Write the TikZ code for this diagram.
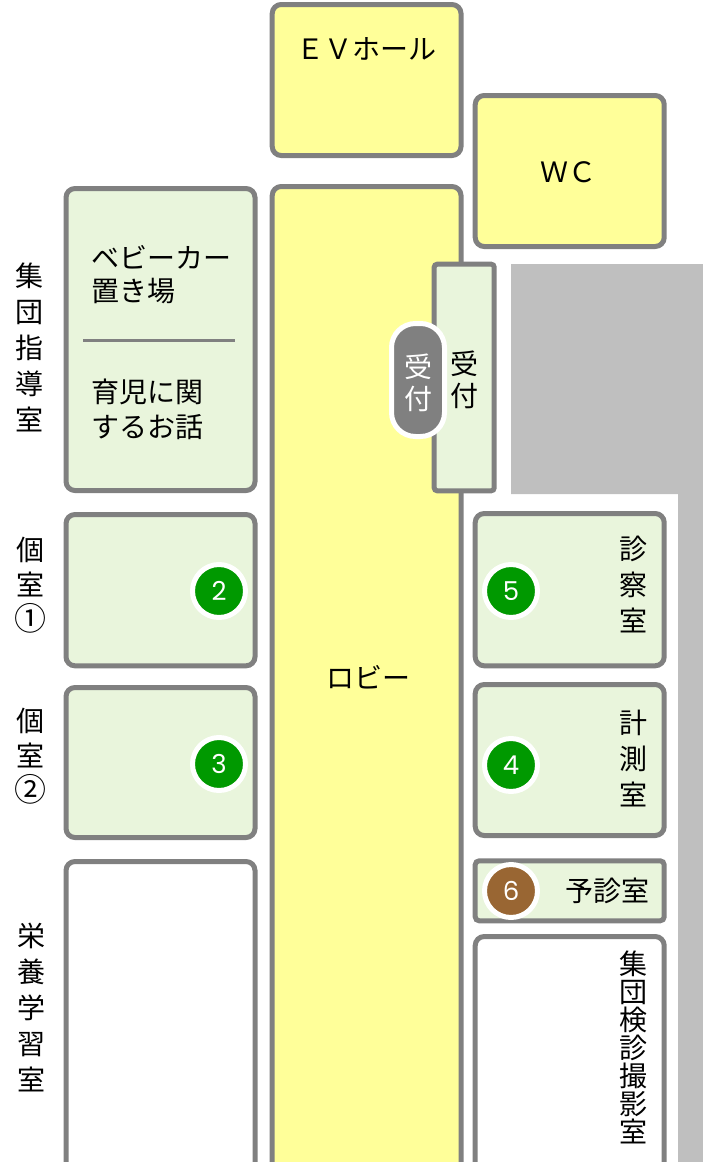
\documentclass[tikz,border=0pt]{standalone}
\usepackage{fontspec}
\setmainfont{Noto Sans CJK JP}
\newfontfamily\digitfont{Poppins}
\definecolor{roomline}{HTML}{808080}
\definecolor{hall}{HTML}{FFFF99}
\definecolor{roomgreen}{HTML}{E9F5DC}
\definecolor{wall}{HTML}{BFBFBF}
\definecolor{markgreen}{HTML}{009900}
\definecolor{markbrown}{HTML}{996633}
\tikzset{
  room/.style={draw=roomline,line width=5pt,rounded corners=9pt},
  roomlabel/.style={inner sep=0pt,align=center,text=black,font=\fontsize{28}{36}\selectfont},
  stepmark/.style={circle,draw=white,line width=5pt,minimum size=53pt,inner sep=0pt,text=white,font=\digitfont\fontsize{26}{26}\selectfont},
}
\newcommand{\circnum}[1]{{\fontsize{32}{32}\selectfont #1}}
\begin{document}
\begin{tikzpicture}[x=1pt,y=-1pt]
\useasboundingbox (0,0) rectangle (703,1162);
\clip (0,0) rectangle (703,1162);
\fill[wall] (511,264) -- (703,264) -- (703,1162) -- (678,1162) -- (678,494) -- (511,494) -- cycle;
\draw[room,fill=hall] (272.2,4.5) rectangle (461,155.5);
\draw[room,fill=hall] (475.2,95.5) rectangle (664.2,246.5);
\draw[room,fill=hall] (272.2,186.5) rectangle (461,1172);
\draw[room,fill=roomgreen] (66,188.5) rectangle (255,490.5);
\draw[room,fill=roomgreen] (66,514.5) rectangle (255,665.8);
\draw[room,fill=roomgreen] (66,687.5) rectangle (255,837.5);
\draw[room,fill=white] (66,861.5) rectangle (255,1172);
\draw[room,fill=roomgreen] (475.2,513.5) rectangle (664.2,665.8);
\draw[room,fill=roomgreen] (475.2,684.5) rectangle (664.2,835.5);
\draw[room,fill=roomgreen,rounded corners=4pt] (475.2,860.8) rectangle (664.2,920.8);
\draw[room,fill=white] (475.2,936.5) rectangle (664.2,1172);
\draw[room,fill=roomgreen,rounded corners=3pt] (434.2,264.2) rectangle (494.2,490.8);
\coordinate (divA) at (83,340);
\coordinate (divB) at (235,340);
\draw[roomline,line width=3pt] (divA) -- (divB);
\draw[white,line width=5pt,fill=roomline,rounded corners=24pt] (391.5,323.5) rectangle (444.5,436.5);
\node[roomlabel] (ev) at (366,49) {ＥＶホール};
\node[roomlabel] (wc) at (568,172) {ＷＣ};
\node[roomlabel] (lobby) at (368,677) {ロビー};
\node[roomlabel,anchor=west,font=\fontsize{28}{33}\selectfont,align=left] (baby) at (91,275) {ベビーカー\\置き場};
\node[roomlabel,anchor=west,font=\fontsize{28}{35}\selectfont,align=left] (talk) at (91,409) {育児に関\\するお話};
\node[roomlabel] (group) at (30,347) {集\\団\\指\\導\\室};
\node[roomlabel,font=\fontsize{28}{35}\selectfont] (r1) at (30,585) {個\\室\\\circnum{①}};
\node[roomlabel,font=\fontsize{28}{35}\selectfont] (r2) at (30,756) {個\\室\\\circnum{②}};
\node[roomlabel] (food) at (31,1007) {栄\\養\\学\\習\\室};
\node[roomlabel] (exam) at (633,584) {診\\察\\室};
\node[roomlabel] (meas) at (633,758) {計\\測\\室};
\node[roomlabel] (pre) at (607,891) {予診室};
\node[roomlabel,font=\fontsize{28}{28}\selectfont] (xray) at (633,1047) {集\\団\\検\\診\\撮\\影\\室};
\node[roomlabel,font=\fontsize{28}{32}\selectfont] (rec) at (464,380) {受\\付};
\node[roomlabel,text=white,font=\fontsize{28}{32}\selectfont] (pill) at (418,383) {受\\付};
\node[stepmark,fill=markgreen] (m2) at (219,591) {2};
\node[stepmark,fill=markgreen] (m3) at (219,764) {3};
\node[stepmark,fill=markgreen] (m5) at (511,591) {5};
\node[stepmark,fill=markgreen] (m4) at (511,765) {4};
\node[stepmark,fill=markbrown] (m6) at (511,891) {6};
\end{tikzpicture}
\end{document}
